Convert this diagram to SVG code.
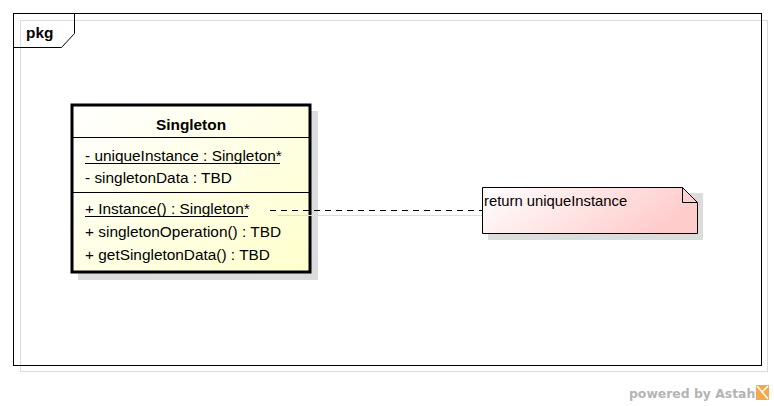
<svg xmlns="http://www.w3.org/2000/svg" width="774" height="406" viewBox="0 0 774 406">
<defs>
<linearGradient id="gClass" x1="0" y1="0" x2="1" y2="1">
<stop offset="0" stop-color="#ffffff"/>
<stop offset="1" stop-color="#ffffcc"/>
</linearGradient>
<linearGradient id="gNote" x1="0" y1="0" x2="1" y2="0.3">
<stop offset="0" stop-color="#ffffff"/>
<stop offset="1" stop-color="#ffcccc"/>
</linearGradient>
<style>
.t{font-family:"Liberation Sans",Arial,sans-serif;font-size:15.4px;fill:#000}
.n{font-size:14.8px}
.b{font-weight:bold}
.shadow{fill:#dcdcdc;stroke:none}
.line{stroke:#000;fill:none}
</style>
</defs>
<rect x="0" y="0" width="774" height="406" fill="#fff"/>
<g id="frame">
<rect x="20.5" y="20.5" width="747" height="351" fill="none" stroke="#dcdcdc"/>
<rect x="13.5" y="13.5" width="748" height="352" fill="none" stroke="#000"/>
<path d="M13.5 47.5 H61.5 L74.5 33.5 V13.5" class="line"/>
<text x="26" y="38" class="t b">pkg</text>
</g>
<g id="singleton">
<rect x="78" y="111" width="240" height="169" class="shadow"/>
<rect x="72" y="105" width="238" height="167" fill="url(#gClass)" stroke="#000" stroke-width="3"/>
<line x1="72" y1="137.5" x2="310" y2="137.5" stroke="#000"/>
<line x1="72" y1="192.5" x2="310" y2="192.5" stroke="#000"/>
<text x="191" y="130" class="t b" text-anchor="middle">Singleton</text>
<text x="85" y="161" class="t">- uniqueInstance : Singleton*</text>
<line x1="85" y1="163.5" x2="280" y2="163.5" stroke="#000"/>
<text x="85" y="183" class="t">- singletonData : TBD</text>
<text x="85" y="214" class="t">+ Instance() : Singleton*</text>
<line x1="85" y1="216.5" x2="248" y2="216.5" stroke="#000"/>
<text x="85" y="237" class="t">+ singletonOperation() : TBD</text>
<text x="85" y="260" class="t">+ getSingletonData() : TBD</text>
</g>
<g id="note">
<rect x="488" y="193" width="215" height="47" class="shadow"/>
<path d="M482.5 187.5 H682.5 L697.5 202.5 V233.5 H482.5 Z" fill="url(#gNote)" stroke="#000"/>
<path d="M682.5 187.5 V202.5 H697.5" class="line"/>
<text x="484" y="206" class="t n">return uniqueInstance</text>
</g>
<g id="connectors">
<line x1="277" y1="215.5" x2="482" y2="215.5" stroke="#dcdcdc"/>
<line x1="270" y1="210.5" x2="482" y2="210.5" stroke="#000" stroke-dasharray="6,5"/>
</g>
<g id="credit">
<text x="629" y="398" style="font-family:'DejaVu Sans',sans-serif;font-size:12.4px;font-weight:bold;fill:#b4b4b4">powered by Astah</text>
<rect x="756" y="385" width="13" height="15" fill="#f5a94c"/>
<path d="M757 386 L768 399 M768 386 L762 392" stroke="#fff" stroke-width="1.5"/>
</g>
</svg>
